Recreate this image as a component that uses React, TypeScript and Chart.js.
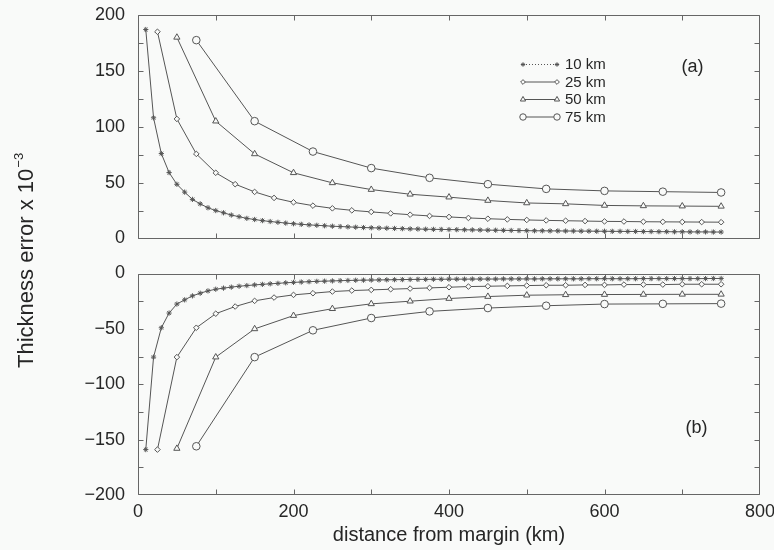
import React, { useEffect, useRef } from 'react';
import { Chart, registerables } from 'chart.js';
import { drawPoint } from 'chart.js/helpers';

Chart.register(...registerables);

// ---- data ----
const seriesLabels = ['10 km', '25 km', '50 km', '75 km'];

const dist10 = [10, 20, 30, 40, 50, 60, 70, 80, 90, 100, 110, 120, 130, 140, 150, 160, 170, 180, 190, 200,
  210, 220, 230, 240, 250, 260, 270, 280, 290, 300, 310, 320, 330, 340, 350, 360, 370, 380, 390, 400,
  410, 420, 430, 440, 450, 460, 470, 480, 490, 500, 510, 520, 530, 540, 550, 560, 570, 580, 590, 600,
  610, 620, 630, 640, 650, 660, 670, 680, 690, 700, 710, 720, 730, 740, 750];
const dist25 = [25, 50, 75, 100, 125, 150, 175, 200, 225, 250, 275, 300, 325, 350, 375, 400, 425, 450, 475, 500,
  525, 550, 575, 600, 625, 650, 675, 700, 725, 750];
const dist50 = [50, 100, 150, 200, 250, 300, 350, 400, 450, 500, 550, 600, 650, 700, 750];
const dist75 = [75, 150, 225, 300, 375, 450, 525, 600, 675, 750];

// panel (a)
const topErr10 = [187, 108, 76, 59, 48.5, 41.5, 35, 31, 27.5, 25, 23, 21, 19.5, 18, 17, 16, 15.2, 14.5, 13.8, 13.2,
  12.7, 12.2, 11.8, 11.4, 11, 10.7, 10.4, 10.1, 9.8, 9.6, 9.4, 9.2, 9, 8.8, 8.6, 8.5, 8.3, 8.2, 8.1, 8,
  7.9, 7.8, 7.7, 7.6, 7.5, 7.4, 7.3, 7.2, 7.1, 7, 6.9, 6.9, 6.8, 6.8, 6.7, 6.7, 6.6, 6.6, 6.5, 6.5,
  6.4, 6.4, 6.3, 6.3, 6.2, 6.2, 6.1, 6.1, 6, 6, 5.9, 5.9, 5.9, 5.8, 5.8];
const topErr25 = [185, 107, 75.7, 58.8, 48.6, 41.7, 36.3, 32.4, 29.4, 27, 25.2, 23.8, 22.5, 21.3, 20.2, 19.3, 18.4, 17.7, 17.1, 16.6,
  16.2, 15.9, 15.6, 15.3, 15.2, 15, 14.9, 14.8, 14.7, 14.6];
const topErr50 = [180, 105, 75.7, 58.8, 49.8, 43.8, 39.6, 37, 34, 31.8, 31, 29.6, 29.2, 29, 28.8];
const topErr75 = [177.5, 105, 77.8, 63, 54.3, 48.6, 44.4, 42.6, 41.9, 41.2];

// panel (b)
const botErr10 = [-159, -75.5, -49, -35.7, -27.6, -23.8, -20.2, -17.8, -15.7, -14.2, -13.2, -12.3, -11.5, -10.9, -10.3, -9.8, -9.3, -8.9, -8.4, -8,
  -7.7, -7.4, -7.1, -6.9, -6.7, -6.5, -6.3, -6.1, -6, -5.9, -5.8, -5.7, -5.6, -5.5, -5.4, -5.3, -5.3, -5.2, -5.2, -5.1,
  -5.1, -5.1, -5, -5, -5, -5, -4.9, -4.9, -4.9, -4.9, -4.9, -4.8, -4.8, -4.8, -4.8, -4.8, -4.8, -4.7, -4.7, -4.7,
  -4.7, -4.7, -4.7, -4.7, -4.6, -4.6, -4.6, -4.6, -4.6, -4.6, -4.6, -4.6, -4.6, -4.5, -4.5];
const botErr25 = [-159, -75.5, -49, -36.3, -29.8, -24.7, -21.7, -19.3, -17.8, -16.3, -15.4, -14.8, -14.2, -13.6, -13, -12.4, -11.8, -11.5, -11.2, -10.9,
  -10.6, -10.6, -10.3, -10.3, -10, -10, -10, -9.7, -9.7, -9.7];
const botErr50 = [-158, -75.5, -50, -38, -31.8, -27.4, -25, -22.6, -20.8, -19.6, -19.2, -19, -18.9, -18.8, -18.8];
const botErr75 = [-156, -75.5, -51.3, -40.2, -34.2, -31.2, -29.1, -27.6, -27.4, -27.2];

// ticks
const xTickLabels = [0, 200, 400, 600, 800];
const xTickMarks = [0, 100, 200, 300, 400, 500, 600, 700, 800];
const yTickLabelsTop = [0, 50, 100, 150, 200];
const yTickLabelsBottom = [-200, -150, -100, -50, 0];
const yTickMarksTop = [0, 25, 50, 75, 100, 125, 150, 175, 200];
const yTickMarksBottom = [-200, -175, -150, -125, -100, -75, -50, -25, 0];

// ---- style ----
const BG = '#f9faf9';
const LINE = '#555555';
const FRAME = '#666666';
const TEXT = '#262626';
const FONT = '"Liberation Sans", Arial, Helvetica, sans-serif';
const markerStyles = [
  { pointStyle: 'star', radius: 2.6 },
  { pointStyle: 'rectRot', radius: 2.8 },
  { pointStyle: 'triangle', radius: 3.6 },
  { pointStyle: 'circle', radius: 3.8 },
];

function toXY(xs: number[], ys: number[]) {
  return xs.map((x, i) => ({ x, y: ys[i] }));
}

function makeDatasets(series: number[][][]) {
  return series.map(([xs, ys], i) => ({
    label: seriesLabels[i],
    data: toXY(xs, ys),
    borderColor: LINE,
    borderWidth: 1,
    pointStyle: markerStyles[i].pointStyle as any,
    pointRadius: markerStyles[i].radius,
    pointBorderColor: LINE,
    pointBackgroundColor: BG,
    pointBorderWidth: 1,
    tension: 0,
    fill: false,
  }));
}

const fmt = (v: number) => (v < 0 ? '\u2212' + Math.abs(v) : String(v));
const clamp = (v: number, lo: number, hi: number) => Math.min(hi, Math.max(lo, v));

function framePlugin(yMarks: number[]) {
  return {
    id: 'frameTicks',
    afterDraw(chart: any) {
      const { ctx, chartArea: a, scales } = chart;
      const xs = scales.x;
      const ys = scales.y;
      ctx.save();
      ctx.setLineDash([]);
      ctx.strokeStyle = FRAME;
      ctx.lineWidth = 1;
      const L = Math.round(a.left) + 0.5;
      const R = Math.round(a.right) - 0.5;
      const T = Math.round(a.top) + 0.5;
      const B = Math.round(a.bottom) - 0.5;
      ctx.beginPath();
      ctx.moveTo(L, T); ctx.lineTo(R, T); ctx.lineTo(R, B); ctx.lineTo(L, B); ctx.closePath();
      for (const v of yMarks) {
        const py = clamp(Math.round(ys.getPixelForValue(v)) + 0.5, T, B);
        ctx.moveTo(L, py); ctx.lineTo(L + 5, py);
        ctx.moveTo(R, py); ctx.lineTo(R - 5, py);
      }
      for (const v of xTickMarks) {
        const px = clamp(Math.round(xs.getPixelForValue(v)) + 0.5, L, R);
        ctx.moveTo(px, T); ctx.lineTo(px, T + 5);
        ctx.moveTo(px, B); ctx.lineTo(px, B - 5);
      }
      ctx.stroke();
      ctx.restore();
    },
  };
}

const legendPlugin = {
  id: 'customLegend',
  afterDraw(chart: any) {
    const { ctx } = chart;
    ctx.save();
    const x0 = 523, x1 = 557, tx = 565;
    const rows = [64.5, 82, 99.5, 117];
    chart.data.datasets.forEach((ds: any, i: number) => {
      const y = rows[i];
      ctx.strokeStyle = LINE;
      ctx.lineWidth = 1;
      ctx.setLineDash(i === 0 ? [1, 2] : []);
      ctx.beginPath();
      ctx.moveTo(x0, y); ctx.lineTo(x1, y);
      ctx.stroke();
      ctx.setLineDash([]);
      ctx.fillStyle = BG;
      const opts = { pointStyle: ds.pointStyle, radius: ds.pointRadius * 0.85, rotation: 0, borderWidth: 1 };
      drawPoint(ctx, opts as any, x0, y);
      drawPoint(ctx, opts as any, x1, y);
      ctx.fillStyle = TEXT;
      ctx.font = `15px ${FONT}`;
      ctx.textAlign = 'left';
      ctx.textBaseline = 'middle';
      ctx.fillText(ds.label, tx, y + 0.5);
    });
    ctx.font = `18px ${FONT}`;
    ctx.textAlign = 'center';
    ctx.textBaseline = 'middle';
    ctx.fillText('(a)', 692.5, 67.5);
    ctx.restore();
  },
};

const bottomTextPlugin = {
  id: 'bottomText',
  afterDraw(chart: any) {
    const { ctx } = chart;
    ctx.save();
    ctx.fillStyle = TEXT;
    ctx.font = `18px ${FONT}`;
    ctx.textAlign = 'center';
    ctx.textBaseline = 'middle';
    ctx.fillText('(b)', 696.5, 428);
    // y-axis title spanning both panels
    ctx.translate(33, 368);
    ctx.rotate(-Math.PI / 2);
    ctx.textAlign = 'left';
    ctx.textBaseline = 'alphabetic';
    ctx.font = `22px ${FONT}`;
    const main = 'Thickness error x 10';
    ctx.fillText(main, 0, 0);
    const w = ctx.measureText(main).width;
    ctx.font = `13px ${FONT}`;
    ctx.fillText('\u22123', w + 1, -10);
    ctx.restore();
  },
};

function baseOptions(yMin: number, yMax: number, yTicks: number[]) {
  return {
    responsive: false,
    maintainAspectRatio: false,
    animation: false as const,
    events: [],
    plugins: { legend: { display: false }, tooltip: { enabled: false } },
    scales: {
      x: {
        type: 'linear' as const,
        min: 0,
        max: 800,
        display: false,
      } as any,
      y: {
        type: 'linear' as const,
        min: yMin,
        max: yMax,
        grid: { display: false, drawTicks: false },
        border: { display: false },
        afterBuildTicks: (s: any) => { s.ticks = yTicks.map((v) => ({ value: v })); },
        afterFit: (s: any) => { s.width = 138; s.paddingTop = 0; s.paddingBottom = 0; },
        ticks: {
          padding: 13,
          color: TEXT,
          font: { family: FONT, size: 18 },
          callback: (v: any) => fmt(Number(v)),
        },
      } as any,
    },
  };
}

export default function App() {
  const topRef = useRef<HTMLCanvasElement>(null);
  const botRef = useRef<HTMLCanvasElement>(null);

  useEffect(() => {
    const topOpts: any = baseOptions(0, 200, yTickLabelsTop);
    topOpts.layout = { autoPadding: false, padding: { left: 0, right: 14, top: 15, bottom: 311.5 } };
    const top = new Chart(topRef.current!, {
      type: 'line',
      data: {
        datasets: makeDatasets([
          [dist10, topErr10], [dist25, topErr25], [dist50, topErr50], [dist75, topErr75],
        ]) as any,
      },
      options: topOpts,
      plugins: [framePlugin(yTickMarksTop), legendPlugin],
    });

    const botOpts: any = baseOptions(-200, 0, yTickLabelsBottom);
    botOpts.layout = { autoPadding: false, padding: { left: 0, right: 14, top: 273.5, bottom: 0 } };
    botOpts.scales.x = {
      type: 'linear',
      min: 0,
      max: 800,
      display: true,
      grid: { display: false, drawTicks: false },
      border: { display: false },
      afterBuildTicks: (s: any) => { s.ticks = xTickLabels.map((v) => ({ value: v })); },
      afterFit: (s: any) => { s.height = 55; s.paddingLeft = 0; s.paddingRight = 0; },
      ticks: {
        padding: 6,
        color: TEXT,
        maxRotation: 0,
        autoSkip: false,
        font: { family: FONT, size: 18 },
        callback: (v: any) => fmt(Number(v)),
      },
      title: {
        display: true,
        text: 'distance from margin (km)',
        color: TEXT,
        font: { family: FONT, size: 20 },
        padding: { top: 0, bottom: 3 },
      },
    };
    const bot = new Chart(botRef.current!, {
      type: 'line',
      data: {
        datasets: makeDatasets([
          [dist10, botErr10], [dist25, botErr25], [dist50, botErr50], [dist75, botErr75],
        ]) as any,
      },
      options: botOpts,
      plugins: [framePlugin(yTickMarksBottom), bottomTextPlugin],
    });

    return () => {
      top.destroy();
      bot.destroy();
    };
  }, []);

  const canvasStyle: React.CSSProperties = {
    position: 'absolute', left: 0, top: 0, width: 774, height: 550, display: 'block',
  };

  return (
    <div style={{ position: 'fixed', left: 0, top: 0, width: 774, height: 550, background: BG, overflow: 'hidden' }}>
      <canvas ref={topRef} width={774} height={550} style={canvasStyle} />
      <canvas ref={botRef} width={774} height={550} style={canvasStyle} />
    </div>
  );
}
